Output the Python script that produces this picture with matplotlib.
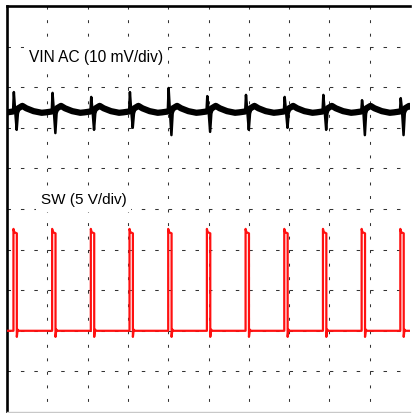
import matplotlib
matplotlib.use("Agg")
import matplotlib.pyplot as plt

plt.rcParams['lines.scale_dashes'] = False
plt.rcParams['font.family'] = ['Liberation Sans', 'DejaVu Sans']

# ---- data (units: divisions of the scope screen) ----
edges = [0.16, 1.12, 2.08, 3.04, 4.00, 4.96, 5.92, 6.88, 7.84, 8.80, 9.76]

# SW trace levels
sw_low = 2.0
sw_high = 4.43
sw_over = 4.51
sw_under = 1.85
sw_width = 0.084

# VIN AC trace: slow shape within one period (offset from edge, level)
vin_offsets = [-0.16, -0.02, 0.07, 0.12, 0.22, 0.32, 0.50, 0.70]
vin_levels = [7.38, 7.40, 7.43, 7.48, 7.54, 7.48, 7.41, 7.37]
# spike peaks at each switching edge
vin_spike_up = [7.88, 7.86, 7.76, 7.88, 7.98, 7.78, 7.81, 7.76, 7.81, 7.68, 7.73]
vin_spike_down = [6.95, 6.87, 6.95, 7.00, 6.82, 6.90, 6.95, 7.00, 6.95, 6.82, 6.82]

labels = ["VIN AC (10 mV/div)", "SW (5 V/div)"]

# ---- figure ----
fig = plt.figure(figsize=(4.12, 4.13), dpi=100)
ax = fig.add_axes([7 / 412, 1 / 413, 403 / 412, 406 / 413])
ax.set_xlim(0, 10)
ax.set_ylim(0, 10)
ax.set_xticks([])
ax.set_yticks([])

for s in ['left', 'top']:
    ax.spines[s].set_linewidth(1.9)
    ax.spines[s].set_color('black')
ax.spines['right'].set_visible(False)
ax.spines['bottom'].set_color('#c8c8c8')
ax.spines['bottom'].set_linewidth(1.0)

# grid
h_on, h_per = 2.5, 9.67
v_on, v_per = 2.1, 9.74
for k in range(1, 10):
    ax.axhline(k, color='#333333', lw=0.75, zorder=1,
               linestyle=(0, (h_on, h_per - h_on)))
    ax.axvline(k, color='#333333', lw=0.75, zorder=1,
               linestyle=(v_on, (v_on, v_per - v_on)))

# VIN AC slow band
vx, vy = [], []
for e in edges:
    for o, l in zip(vin_offsets, vin_levels):
        vx.append(e + o)
        vy.append(l)
vx.append(10.2)
vy.append(vin_levels[-1])
ax.plot(vx, vy, color='black', lw=4.5, solid_joinstyle='round', zorder=3)

# VIN AC spikes
for e, up, dn in zip(edges, vin_spike_up, vin_spike_down):
    sx = [e - 0.01, e + 0.01, e + 0.04, e + 0.08, e + 0.11, e + 0.14]
    sy = [vin_levels[1], up, 7.45, dn, 7.35, 7.45]
    ax.plot(sx, sy, color='black', lw=1.8, zorder=4)

# SW trace
sx, sy = [0.0], [sw_low]
for e in edges:
    sx += [e, e, e + 0.02, e + sw_width, e + sw_width, e + sw_width + 0.02, e + sw_width + 0.05]
    sy += [sw_low, sw_over, sw_high, sw_high - 0.03, sw_under, sw_low + 0.03, sw_low]
sx.append(10.0)
sy.append(sw_low)
ax.plot(sx, sy, color='#ff1010', lw=1.6, zorder=4)

box = dict(boxstyle='square,pad=0.3', facecolor='white', edgecolor='none')
ax.text(0.55, 8.63, labels[0], fontsize=11.2, color='black', va='baseline',
        ha='left', bbox=box, zorder=2)
ax.text(0.84, 5.12, labels[1], fontsize=11.0, color='black', va='baseline',
        ha='left', bbox=box, zorder=2)

fig.savefig('out.png', dpi=100)
